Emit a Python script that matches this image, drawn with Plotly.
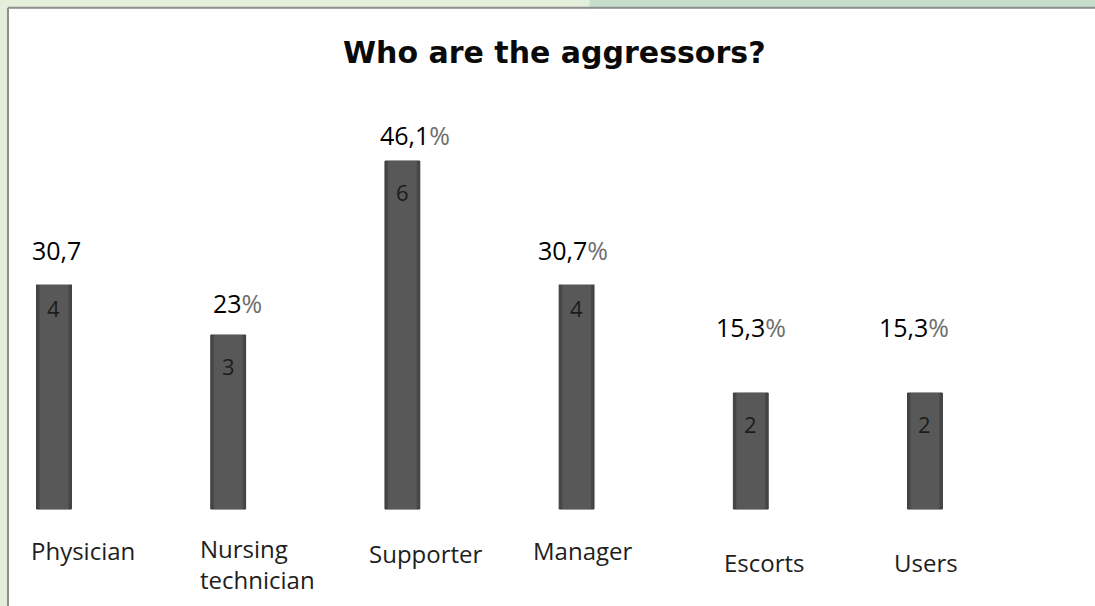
import plotly.graph_objects as go

categories = ["Physician", "Nursing<br>technician", "Supporter", "Manager", "Escorts", "Users"]
counts = [4, 3, 6, 4, 2, 2]
pct_numbers = ["30,7", "23", "46,1", "30,7", "15,3", "15,3"]

# layout offsets (pixels) for the hand-placed labels
pct_xshift = [3, 9, 13, -4, 0, -11]
pct_yshift = [27, 32, 26, 27, 66, 66]
cat_xshift = [29, 29, 24, 6, 14, 1]
cat_ypix = [550, 564, 553, 550, 562, 562]

x = list(range(len(categories)))

fig = go.Figure()
fig.add_trace(go.Bar(
    x=x, y=counts, width=0.2,
    marker=dict(color="#474747", line=dict(color="#3a3a3a", width=1)),
    hoverinfo="skip", showlegend=False,
))
fig.add_trace(go.Bar(
    x=x, y=counts, width=0.165,
    marker=dict(color="#585858", line=dict(width=0)),
    hoverinfo="skip", showlegend=False,
))

ann = []
for i, (c, v, p) in enumerate(zip(categories, counts, pct_numbers)):
    # value inside the bar
    ann.append(dict(x=i, y=v, text=str(v), showarrow=False, yshift=-31,
                    font=dict(family="Open Sans", size=22, color="#1c1c1c")))
    # percentage above the bar
    txt = p if i == 0 else p + '<span style="color:#6e6e6e">%</span>'
    covered = i in (0, 3)
    ann.append(dict(x=i, y=v, text=txt, showarrow=False, yanchor="middle",
                    xshift=pct_xshift[i], yshift=pct_yshift[i],
                    bgcolor="white" if covered else None,
                    borderpad=17 if covered else 1,
                    font=dict(family="Open Sans", size=25, color="#000000")))
    # category label
    ann.append(dict(x=i, y=1 - (cat_ypix[i] - 9) / 597, yref="paper", text=c,
                    showarrow=False, xshift=cat_xshift[i], align="left",
                    yanchor="middle",
                    font=dict(family="Open Sans", size=24, color="#1e1e1e")))

ann.append(dict(x=0.503, y=1 - (52 - 9) / 597, xref="paper", yref="paper",
                text="<b>Who are the aggressors?</b>", showarrow=False,
                xanchor="center", yanchor="middle",
                font=dict(family="DejaVu Sans", size=30, color="#0a0a0a")))

shapes = [
    # greener top-right background strip
    dict(type="rect", xref="paper", yref="paper", x0=0.535, x1=1.01, y0=1.0, y1=1.02,
         fillcolor="#c6dfcd", line=dict(width=0), layer="below"),
    # frame lines (left and top)
    dict(type="line", xref="paper", yref="paper", x0=0, x1=0, y0=-0.01, y1=1.002,
         line=dict(color="#8f8f8f", width=2)),
    dict(type="line", xref="paper", yref="paper", x0=0, x1=1.01, y0=1.002, y1=1.002,
         line=dict(color="#8f8f8f", width=2)),
]

fig.update_layout(
    width=1095, height=606,
    margin=dict(l=8, r=0, t=9, b=0),
    paper_bgcolor="#e3efdb", plot_bgcolor="#ffffff",
    barmode="overlay",
    xaxis=dict(range=[-0.264, 5.976], visible=False, fixedrange=True),
    yaxis=dict(range=[-1.672, 8.621], visible=False, fixedrange=True),
    annotations=ann, shapes=shapes,
)

fig.write_html("out.html", config={"displayModeBar": False},
               post_script="document.body.style.margin='0';document.body.style.overflow='hidden';")
